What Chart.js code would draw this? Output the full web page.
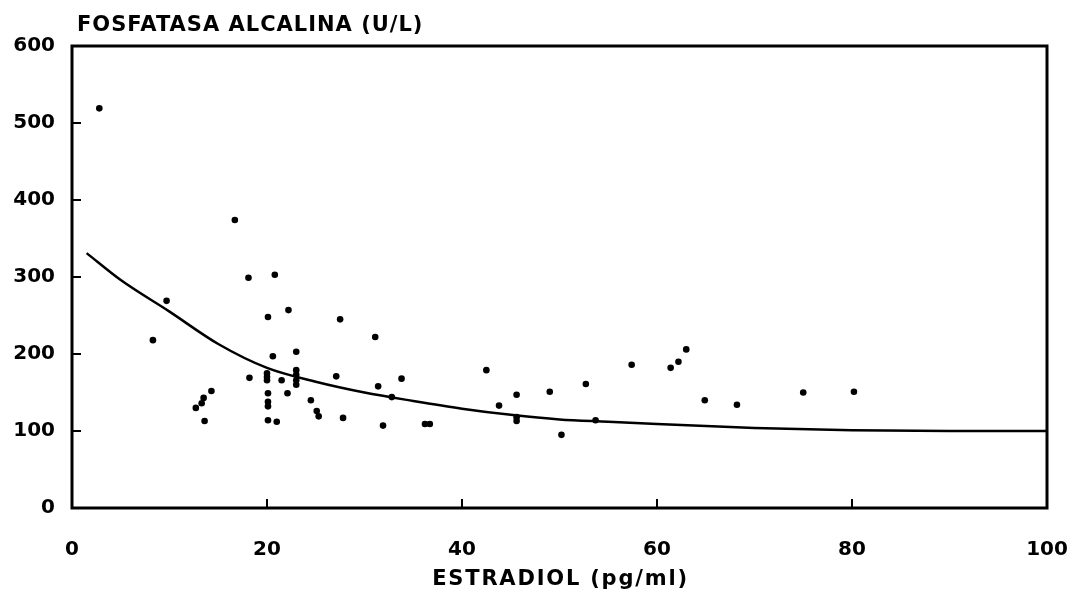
<!DOCTYPE html>
<html>
<head>
<meta charset="utf-8">
<script src="https://cdn.jsdelivr.net/npm/chart.js@4.4.1/dist/chart.umd.min.js"></script>
<style>
  html, body { margin: 0; padding: 0; background: #fff; }
  #wrap { width: 1082px; height: 595px; position: relative; }
</style>
</head>
<body>
<div id="wrap"><canvas id="chart"></canvas></div>
<script>
// estradiol (pg/ml) vs alkaline phosphatase (U/L), one entry per patient
const estradiol = [2.8, 8.3, 9.7, 12.7, 13.3, 13.5, 14.3, 13.6, 16.7, 18.1, 18.2,
	20.0, 20.0, 20.0, 20.1, 20.1, 20.1, 20.1, 20.1, 20.6, 20.8, 21.0, 21.5, 22.1, 22.2,
	23.0, 23.0, 23.0, 23.0, 23.0, 24.5, 25.1, 25.3, 27.1, 27.5, 27.8,
	31.1, 31.4, 31.9, 32.8, 33.8, 36.2, 36.7, 42.5, 43.8, 45.6, 45.6, 45.6,
	49.0, 50.2, 52.7, 53.7, 57.4, 61.4, 62.2, 63.0, 64.9, 68.2, 75.0, 80.2];
const fosfatasa = [519, 218, 269, 130, 136, 143, 152, 113, 374, 299, 169,
	175, 170, 166, 149, 138, 132, 114, 248, 197, 303, 112, 166, 149, 257,
	203, 179, 173, 166, 160, 140, 126, 119, 171, 245, 117,
	222, 158, 107, 144, 168, 109, 109, 179, 133, 147, 118, 113,
	151, 95, 161, 114, 186, 182, 190, 206, 140, 134, 150, 151];

// fitted regression curve, read at fixed estradiol values
const curveX = [1.5, 5, 10, 15, 20, 25, 30, 35, 40, 45, 50, 55, 60, 70, 80, 90, 100];
const curveY = [331, 296, 255, 213, 182, 164, 150, 139, 129, 121, 115, 112, 109, 104, 101, 100, 100];

const xTicks = [0, 20, 40, 60, 80, 100];
const yTicks = [0, 100, 200, 300, 400, 500, 600];

const yTitle = 'FOSFATASA ALCALINA (U/L)';
const xTitle = 'ESTRADIOL (pg/ml)';

const ink = '#000';
const fontFamily = '"DejaVu Sans", "Liberation Sans", sans-serif';

const points = estradiol.map((x, i) => ({ x, y: fosfatasa[i] }));
const curve = curveX.map((x, i) => ({ x, y: curveY[i] }));

// box around the plot, short inward ticks on the left and bottom, both axis titles
const framePlugin = {
	id: 'frame',
	afterDraw(chart) {
		const { ctx, chartArea: a, scales } = chart;
		ctx.save();
		ctx.strokeStyle = ink;
		ctx.lineWidth = 3;
		ctx.strokeRect(a.left, a.top, a.right - a.left, a.bottom - a.top);
		ctx.lineWidth = 2;
		ctx.beginPath();
		yTicks.slice(1, -1).forEach((v) => {
			const py = scales.y.getPixelForValue(v);
			ctx.moveTo(a.left, py);
			ctx.lineTo(a.left + 9, py);
		});
		xTicks.slice(1, -1).forEach((v) => {
			const px = scales.x.getPixelForValue(v);
			ctx.moveTo(px, a.bottom);
			ctx.lineTo(px, a.bottom - 9);
		});
		ctx.stroke();

		ctx.fillStyle = ink;
		ctx.textBaseline = 'alphabetic';
		// y title sits above the frame, flush left
		ctx.font = `bold 21px ${fontFamily}`;
		ctx.letterSpacing = '1px';
		ctx.textAlign = 'left';
		ctx.fillText(yTitle, a.left + 5, a.top - 15);
		// x title centred under the tick labels
		ctx.letterSpacing = '1.8px';
		ctx.textAlign = 'center';
		ctx.fillText(xTitle, (a.left + a.right) / 2 + 1, a.bottom + 77);
		ctx.restore();
	},
};

new Chart(document.getElementById('chart'), {
	type: 'scatter',
	data: {
		datasets: [
			{
				label: 'pacientes',
				data: points,
				backgroundColor: ink,
				borderColor: ink,
				pointRadius: 3.3,
				pointBorderWidth: 0,
			},
			{
				label: 'ajuste',
				data: curve,
				showLine: true,
				borderColor: ink,
				borderWidth: 2.5,
				pointRadius: 0,
				cubicInterpolationMode: 'monotone',
				fill: false,
			},
		],
	},
	options: {
		responsive: true,
		maintainAspectRatio: false,
		animation: false,
		layout: { padding: { top: 46, right: 35, left: 0, bottom: 0 } },
		plugins: {
			legend: { display: false },
			tooltip: { enabled: false },
		},
		scales: {
			x: {
				type: 'linear',
				min: 0,
				max: 100,
				afterBuildTicks: (s) => { s.ticks = xTicks.map((value) => ({ value })); },
				afterFit: (s) => {
					s.height = 87;
					// the "100" label may hang past the frame
					s.paddingLeft = 0;
					s.paddingRight = 0;
				},
				grid: { display: false, drawTicks: false },
				border: { display: false },
				ticks: { color: ink, padding: 30, font: { family: fontFamily, weight: 'bold', size: 20 } },
			},
			y: {
				min: 0,
				max: 600,
				afterBuildTicks: (s) => { s.ticks = yTicks.map((value) => ({ value })); },
				afterFit: (s) => { s.width = 72; },
				grid: { display: false, drawTicks: false },
				border: { display: false },
				ticks: { color: ink, padding: 17, font: { family: fontFamily, weight: 'bold', size: 20 } },
			},
		},
	},
	plugins: [framePlugin],
});
</script>
</body>
</html>
